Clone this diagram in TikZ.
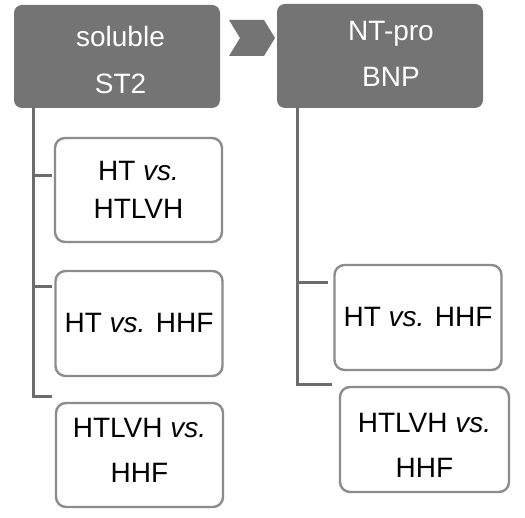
\documentclass[tikz,border=0pt]{standalone}
\usepackage{fontspec}
\setmainfont{Liberation Sans}
\definecolor{hdr}{RGB}{116,116,116}
\definecolor{edgegray}{RGB}{140,140,140}
\definecolor{conngray}{RGB}{108,108,108}
\newcommand{\fsz}[1]{\fontsize{28}{#1}\selectfont}
\begin{document}
\begin{tikzpicture}[x=1pt,y=-1pt,
  hbox/.style={fill=hdr,draw=none,rounded corners=8pt,minimum width=206pt,minimum height=103pt,inner sep=0pt},
  htext/.style={text=white,align=center,inner sep=0pt,font=\fsz{46.6}},
  wbox/.style={draw=edgegray,line width=2.4pt,rounded corners=10pt,fill=white,minimum width=167pt,minimum height=104pt,inner sep=0pt,align=center,font=\fsz{38}},
  wtext/.style={align=center,inner sep=0pt,font=\fsz{45}},
  connline/.style={draw=conngray,line width=3pt},
  chev/.style={fill=hdr,draw=none}]
\useasboundingbox (0,0) rectangle (525,518);
\fill[white] (0,0) rectangle (525,518);
% headers
\node[hbox] (A) at (117,56.5) {};
\node[hbox,minimum height=104pt] (B) at (380,56) {};
\node[htext] (At) at (120.5,59.7) {soluble\\ST2};
\node[htext] (Bt) at (391,53.7) {NT-pro\\BNP};
% chevron
\fill[chev] (229,20) -- (264,20) -- (275,38) -- (264,56) -- (229,56) -- (240,38) -- cycle;
% white boxes
\node[wbox] (L1) at (138.5,190) {HT \textit{vs.}\\HTLVH};
\node[wbox,minimum height=105pt] (L2) at (139,323.5) {HT \textit{vs.} HHF};
\node[wbox] (L3) at (139.5,455) {};
\node[wtext] (L3t) at (139.5,450) {HTLVH \textit{vs.}\\HHF};
\node[wbox,minimum height=105pt] (R1) at (418,317.5) {HT \textit{vs.} HHF};
\node[wbox,minimum width=169pt,minimum height=105pt] (R2) at (424.5,439.5) {};
\node[wtext] (R2t) at (424.5,445.5) {HTLVH \textit{vs.}\\HHF};
% connectors left
\coordinate (ta) at (33,108);
\coordinate (b1) at (52,176);
\coordinate (b2) at (52,287);
\coordinate (b3) at (52,397);
\draw[connline] (A.south -| ta) |- (b3);
\draw[connline] (ta |- b1) -- (b1);
\draw[connline] (ta |- b2) -- (b2);
% connectors right
\coordinate (tb) at (297,108);
\coordinate (c1) at (328,283);
\coordinate (c2) at (332,385);
\draw[connline] (B.south -| tb) |- (c2);
\draw[connline] (tb |- c1) -- (c1);
\end{tikzpicture}
\end{document}
